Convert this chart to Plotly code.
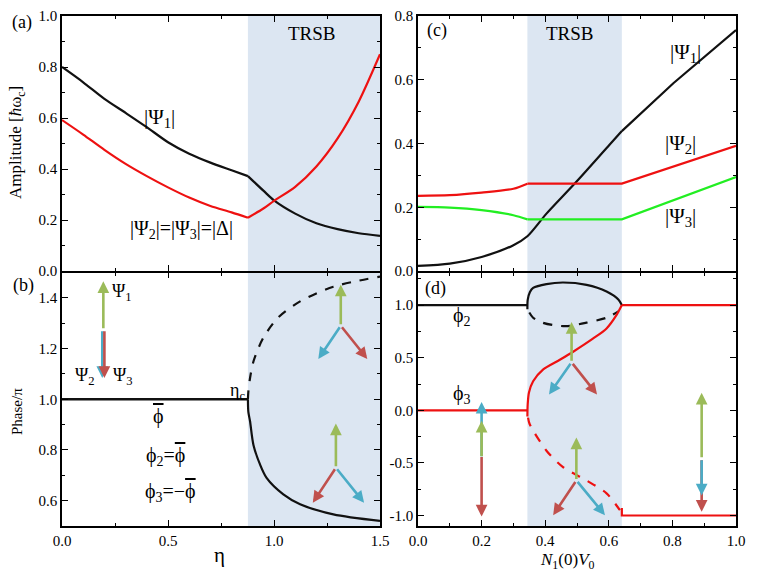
import plotly.graph_objects as go

# ---------------- data ----------------
# panel (a): amplitudes vs eta
eta_a = [0.0, 0.1, 0.2, 0.3, 0.4, 0.5, 0.6, 0.7, 0.8, 0.877, 0.95, 1.0, 1.1, 1.2, 1.3, 1.4, 1.5]
psi1_a = [0.80, 0.74, 0.675, 0.62, 0.564, 0.505, 0.46, 0.425, 0.395, 0.372, 0.315, 0.277, 0.225, 0.187, 0.164, 0.148, 0.138]
delta_a = [0.592, 0.535, 0.475, 0.42, 0.372, 0.328, 0.288, 0.255, 0.23, 0.209, 0.245, 0.275, 0.33, 0.41, 0.52, 0.665, 0.85]
IDX_C_A = 9  # index of eta_c in eta_a

# panel (b): phase vs eta
eta_b_flat = [0.0, 0.877]
phi_b_flat = [1.0, 1.0]
eta_b_low = [0.877, 0.879, 0.887, 0.903, 0.934, 0.965, 1.044, 1.123, 1.28, 1.5]
phi_b_low = [1.0, 0.95, 0.913, 0.82, 0.743, 0.69, 0.625, 0.586, 0.546, 0.52]
eta_b_up = [0.877, 0.879, 0.887, 0.903, 0.948, 1.017, 1.123, 1.28, 1.5]
phi_b_up = [1.0, 1.03, 1.084, 1.149, 1.24, 1.32, 1.386, 1.444, 1.484]
eta_c_crit = 0.877
eta_range = [0.0, 1.5]

# panel (c): amplitudes vs N1(0)V0
nv_c = [0.0, 0.1, 0.2, 0.3, 0.344, 0.404, 0.498, 0.603, 0.641, 0.803, 1.0]
psi1_c = [0.016, 0.023, 0.044, 0.081, 0.109, 0.18, 0.28, 0.397, 0.439, 0.589, 0.756]
IDX_HI_C = 8
nv_c23 = [0.0, 0.1, 0.2, 0.3, 0.344, 0.641, 1.0]
psi2_c = [0.236, 0.238, 0.246, 0.258, 0.274, 0.274, 0.393]
psi3_c = [0.201, 0.199, 0.191, 0.175, 0.162, 0.162, 0.295]
IDX_LO_C23 = 4
trsb_c = [0.344, 0.641]

# panel (d): phases vs N1(0)V0
nv_phi2_flat = [0.0, 0.344]
phi2_flat = [1.0, 1.0]
nv_phi2_loop = [0.344, 0.345, 0.352, 0.362, 0.404, 0.456, 0.53, 0.593, 0.63, 0.641]
phi2_loop = [0.96, 1.05, 1.125, 1.163, 1.2, 1.215, 1.193, 1.13, 1.054, 1.0]
nv_phi2_d = [0.35, 0.362, 0.39, 0.425, 0.467, 0.53, 0.593, 0.63]
phi2_dash = [0.93, 0.88, 0.835, 0.81, 0.80, 0.833, 0.88, 0.94]
nv_phi3_flat = [0.0, 0.344]
phi3_flat = [0.0, 0.0]
nv_phi3_s = [0.344, 0.345, 0.349, 0.362, 0.393, 0.446, 0.488, 0.551, 0.593, 0.624, 0.641]
phi3_s = [-0.06, 0.06, 0.17, 0.276, 0.387, 0.48, 0.557, 0.683, 0.778, 0.904, 1.0]
nv_phi3_hi = [0.641, 1.0]
phi3_hi = [1.0, 1.0]
nv_phi3_d = [0.346, 0.351, 0.404, 0.456, 0.53, 0.593, 0.635]
phi3_dash = [-0.07, -0.13, -0.384, -0.54, -0.667, -0.79, -0.95]
nv_phi3_low = [0.641, 0.641, 1.0]
phi3_low = [-0.93, -1.0, -1.0]

# ---------------- style ----------------
FONT = "Liberation Serif, Times New Roman, serif"
BLACK = "#111111"
RED = "#ee1111"
GREEN = "#22ee22"
SHADE = "#dce6f2"
A_GREEN = "#9bbb59"
A_BLUE = "#4bacc6"
A_RED = "#c0504d"
PHI = "ϕ"

W, H = 763, 582
XL = [62 / W, 380 / W]
XR = [418 / W, 736 / W]
YT = [1 - 271 / H, 1 - 16 / H]
YB = [1 - 526 / H, 1 - 272.5 / H]

fig = go.Figure()

def line(x, y, color, xa, ya, dash=None, w=2.2, shape="spline"):
    fig.add_trace(go.Scatter(x=x, y=y, mode="lines", xaxis=xa, yaxis=ya,
                             line=dict(color=color, width=w, dash=dash, shape=shape, smoothing=0.8),
                             showlegend=False, hoverinfo="skip"))

line(eta_a[:IDX_C_A + 1], psi1_a[:IDX_C_A + 1], BLACK, "x", "y")
line(eta_a[IDX_C_A:], psi1_a[IDX_C_A:], BLACK, "x", "y")
line(eta_a[:IDX_C_A + 1], delta_a[:IDX_C_A + 1], RED, "x", "y")
line(eta_a[IDX_C_A:], delta_a[IDX_C_A:], RED, "x", "y")

line(eta_b_flat, phi_b_flat, BLACK, "x2", "y2", w=2.6, shape="linear")
line(eta_b_low, phi_b_low, BLACK, "x2", "y2")
line(eta_b_up, phi_b_up, BLACK, "x2", "y2", dash="dash")

line(nv_c[:IDX_HI_C + 1], psi1_c[:IDX_HI_C + 1], BLACK, "x3", "y3")
line(nv_c[IDX_HI_C:], psi1_c[IDX_HI_C:], BLACK, "x3", "y3", shape="linear")
for series, col in [(psi2_c, RED), (psi3_c, GREEN)]:
    line(nv_c23[:IDX_LO_C23 + 1], series[:IDX_LO_C23 + 1], col, "x3", "y3")
    line(nv_c23[IDX_LO_C23:], series[IDX_LO_C23:], col, "x3", "y3", shape="linear")

line(nv_phi2_flat, phi2_flat, BLACK, "x4", "y4", shape="linear")
line(nv_phi2_loop, phi2_loop, BLACK, "x4", "y4")
line(nv_phi2_d, phi2_dash, BLACK, "x4", "y4", dash="dash")
line(nv_phi3_flat, phi3_flat, RED, "x4", "y4", shape="linear")
line(nv_phi3_s, phi3_s, RED, "x4", "y4")
line(nv_phi3_hi, phi3_hi, RED, "x4", "y4", shape="linear")
line(nv_phi3_d, phi3_dash, RED, "x4", "y4", dash="dash")
line(nv_phi3_low, phi3_low, RED, "x4", "y4", shape="linear")

# shaded TRSB regions
for xr, yr, x0, x1 in [("x", "y", eta_c_crit, eta_range[1]), ("x2", "y2", eta_c_crit, eta_range[1]),
                       ("x3", "y3", trsb_c[0], trsb_c[1]), ("x4", "y4", trsb_c[0], trsb_c[1])]:
    fig.add_shape(type="rect", xref=xr, yref=yr + " domain", x0=x0, x1=x1, y0=0, y1=1,
                  fillcolor=SHADE, line=dict(width=0), layer="below")

ann = []

def arrow(x0, y0, x1, y1, color, xa, ya):
    ann.append(dict(x=x1, y=y1, ax=x0, ay=y0, xref=xa, yref=ya, axref=xa, ayref=ya,
                    text="", showarrow=True, arrowhead=2, arrowsize=0.9, arrowwidth=2.6,
                    arrowcolor=color, standoff=0, startstandoff=0))

# panel (b) arrows
arrow(0.19, 1.274, 0.19, 1.084, A_BLUE, "x2", "y2")
arrow(0.2, 1.274, 0.2, 1.084, A_RED, "x2", "y2")
arrow(0.195, 1.274, 0.195, 1.465, A_GREEN, "x2", "y2")
arrow(1.315, 1.29, 1.315, 1.452, A_GREEN, "x2", "y2")
arrow(1.315, 1.29, 1.209, 1.159, A_BLUE, "x2", "y2")
arrow(1.315, 1.29, 1.44, 1.159, A_RED, "x2", "y2")
arrow(1.292, 0.73, 1.292, 0.904, A_GREEN, "x2", "y2")
arrow(1.292, 0.73, 1.183, 0.592, A_RED, "x2", "y2")
arrow(1.292, 0.73, 1.425, 0.592, A_BLUE, "x2", "y2")

# panel (d) arrows
arrow(0.2, -0.45, 0.2, 0.08, A_BLUE, "x4", "y4")
arrow(0.2, -0.45, 0.2, -0.1, A_GREEN, "x4", "y4")
arrow(0.2, -0.43, 0.2, -1.01, A_RED, "x4", "y4")
arrow(0.483, 0.456, 0.483, 0.84, A_GREEN, "x4", "y4")
arrow(0.483, 0.456, 0.412, 0.15, A_BLUE, "x4", "y4")
arrow(0.483, 0.456, 0.563, 0.15, A_RED, "x4", "y4")
arrow(0.498, -0.667, 0.498, -0.258, A_GREEN, "x4", "y4")
arrow(0.498, -0.667, 0.425, -0.997, A_RED, "x4", "y4")
arrow(0.498, -0.667, 0.588, -0.997, A_BLUE, "x4", "y4")
arrow(0.892, -0.46, 0.892, -0.965, A_RED, "x4", "y4")
arrow(0.892, -0.46, 0.892, -0.81, A_BLUE, "x4", "y4")
arrow(0.892, -0.46, 0.892, 0.166, A_GREEN, "x4", "y4")

def txt(x, y, s, xa, ya, size=18, angle=0):
    ann.append(dict(x=x, y=y, xref=xa, yref=ya, text=s, showarrow=False,
                    xanchor="center", yanchor="middle",
                    font=dict(family=FONT, size=size, color="black"), textangle=angle))

BAR = '<span style="text-decoration:overline">' + PHI + '</span>'

# panel labels
txt(22 / W, 1 - 23 / H, "(a)", "paper", "paper", 18)
txt(23 / W, 1 - 285 / H, "(b)", "paper", "paper", 18)
txt(437 / W, 1 - 30 / H, "(c)", "paper", "paper", 18)
txt(435 / W, 1 - 288 / H, "(d)", "paper", "paper", 18)

# axis titles
txt(17 / W, 1 - 143 / H, "Amplitude [<i>ħ</i>ω<sub>c</sub>]", "paper", "paper", 17, -90)
txt(17 / W, 1 - 412 / H, "Phase/π", "paper", "paper", 15, -90)
txt(220 / W, 1 - 555 / H, "η", "paper", "paper", 21)
txt(567 / W, 1 - 561 / H, "<i>N</i><sub>1</sub>(0)<i>V</i><sub>0</sub>", "paper", "paper", 17)

# panel (a)
txt(1.178, 0.932, "TRSB", "x", "y", 19)
txt(0.462, 0.60, "|Ψ<sub>1</sub>|", "x", "y", 21)
txt(0.565, 0.161, "|Ψ<sub>2</sub>|=|Ψ<sub>3</sub>|=|Δ|", "x", "y", 20)
# panel (b)
txt(0.282, 1.42, "Ψ<sub>1</sub>", "x2", "y2", 18)
txt(0.108, 1.09, "Ψ<sub>2</sub>", "x2", "y2", 18)
txt(0.289, 1.09, "Ψ<sub>3</sub>", "x2", "y2", 18)
txt(0.83, 1.03, "η<sub>c</sub>", "x2", "y2", 18)
txt(0.454, 0.933, BAR, "x2", "y2", 20)
txt(0.486, 0.776, PHI + "<sub>2</sub>=" + BAR, "x2", "y2", 20)
txt(0.51, 0.632, PHI + "<sub>3</sub>=−" + BAR, "x2", "y2", 20)
# panel (c)
txt(0.477, 0.746, "TRSB", "x3", "y3", 19)
txt(0.84, 0.683, "|Ψ<sub>1</sub>|", "x3", "y3", 21)
txt(0.824, 0.40, "|Ψ<sub>2</sub>|", "x3", "y3", 21)
txt(0.824, 0.17, "|Ψ<sub>3</sub>|", "x3", "y3", 21)
# panel (d)
txt(0.137, 0.896, PHI + "<sub>2</sub>", "x4", "y4", 20)
txt(0.137, 0.15, PHI + "<sub>3</sub>", "x4", "y4", 20)

def ax(domain, anchor, rng, tickvals, ticktext, minor_dtick, showlabels=True):
    return dict(domain=domain, anchor=anchor, range=rng, showline=True, linecolor="black",
                linewidth=1.5, mirror="allticks", ticks="inside", ticklen=6, tickwidth=1.3,
                tickcolor="black", tickvals=tickvals, ticktext=ticktext, automargin=False,
                showticklabels=showlabels, showgrid=False, zeroline=False,
                tickfont=dict(family=FONT, size=15, color="black"),
                minor=dict(ticks="inside", ticklen=3.5, tickwidth=1.1, tickcolor="black",
                           dtick=minor_dtick, tick0=0, showgrid=False))

xt_eta = [0.0, 0.5, 1.0, 1.5]
xl_eta = ["0.0", "0.5", "1.0", "1.5"]
xt_nv = [0.0, 0.2, 0.4, 0.6, 0.8, 1.0]
xl_nv = ["0.0", "0.2", "0.4", "0.6", "0.8", "1.0"]
yt_a = [0.0, 0.2, 0.4, 0.6, 0.8, 1.0]
yl_a = ["0.0", "0.2", "0.4", "0.6", "0.8", "1.0"]
yt_b = [0.6, 0.8, 1.0, 1.2, 1.4]
yl_b = ["0.6", "0.8", "1.0", "1.2", "1.4"]
yt_c = [0.0, 0.2, 0.4, 0.6, 0.8]
yl_c = ["0.0", "0.2", "0.4", "0.6", "0.8"]
yt_d = [-1.0, -0.5, 0.0, 0.5, 1.0]
yl_d = ["-1.0", "-0.5", "0.0", "0.5", "1.0"]

fig.update_layout(
    template="none",
    width=W, height=H, margin=dict(l=0, r=0, t=0, b=0, autoexpand=False),
    paper_bgcolor="white", plot_bgcolor="white",
    font=dict(family=FONT, color="black"),
    xaxis=ax(XL, "y", eta_range, xt_eta, xl_eta, 0.25, False),
    yaxis=ax(YT, "x", [0.0, 1.0], yt_a, yl_a, 0.1),
    xaxis2=ax(XL, "y2", eta_range, xt_eta, xl_eta, 0.25),
    yaxis2=ax(YB, "x2", [0.5, 1.5], yt_b, yl_b, 0.1),
    xaxis3=ax(XR, "y3", [0.0, 1.0], xt_nv, xl_nv, 0.1, False),
    yaxis3=ax(YT, "x3", [0.0, 0.8], yt_c, yl_c, 0.1),
    xaxis4=ax(XR, "y4", [0.0, 1.0], xt_nv, xl_nv, 0.1),
    yaxis4=ax(YB, "x4", [-1.1, 1.31], yt_d, yl_d, 0.25),
    annotations=ann,
)

fig.write_html("out.html", config={"displayModeBar": False},
               post_script="document.body.style.margin='0';document.body.style.padding='0';")
